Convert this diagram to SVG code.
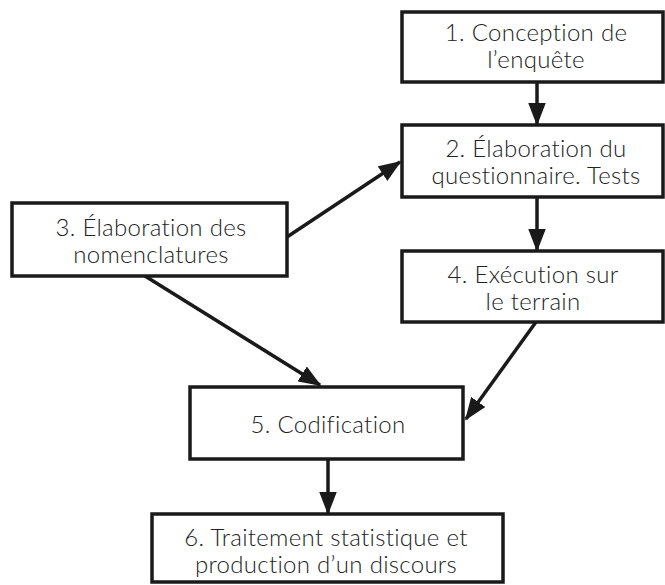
<svg xmlns="http://www.w3.org/2000/svg" width="665" height="585" viewBox="0 0 665 585">
<style>
.box{fill:#fff;stroke:#1a1a1a;stroke-width:3.5}
.lbl{font-family:"Lato","Liberation Sans",sans-serif;font-weight:300;font-size:24px;letter-spacing:0.3px;fill:#222;text-anchor:middle}
.con{stroke:#1a1a1a;stroke-width:3.5;fill:none;marker-end:url(#ah)}
</style>
<defs>
<marker id="ah" markerWidth="6.5" markerHeight="5" refX="6" refY="2.5" orient="auto" markerUnits="strokeWidth">
<path d="M0,0 L6.5,2.5 L0,5 Z" fill="#1a1a1a"/>
</marker>
</defs>
<rect width="665" height="585" fill="#fff"/>
<g id="connectors">
<line class="con" x1="537" y1="82" x2="537" y2="124"/>
<line class="con" x1="537" y1="197" x2="537" y2="250"/>
<line class="con" x1="287" y1="237" x2="400" y2="162"/>
<line class="con" x1="145" y1="276" x2="320" y2="385"/>
<line class="con" x1="536" y1="322" x2="466" y2="419"/>
<line class="con" x1="328" y1="459" x2="328" y2="513"/>
</g>
<g id="n1">
<rect class="box" x="402" y="12" width="261" height="70"/>
<text class="lbl"><tspan x="536" y="41">1. Conception de</tspan><tspan x="536" y="68">l’enquête</tspan></text>
</g>
<g id="n2">
<rect class="box" x="402" y="125" width="261" height="72"/>
<text class="lbl"><tspan x="536" y="157">2. Élaboration du</tspan><tspan x="536" y="184">questionnaire. Tests</tspan></text>
</g>
<g id="n3">
<rect class="box" x="12" y="203" width="275" height="73"/>
<text class="lbl"><tspan x="151" y="236">3. Élaboration des</tspan><tspan x="151" y="263">nomenclatures</tspan></text>
</g>
<g id="n4">
<rect class="box" x="402" y="251" width="261" height="71"/>
<text class="lbl"><tspan x="533" y="283">4. Exécution sur</tspan><tspan x="533" y="310">le terrain</tspan></text>
</g>
<g id="n5">
<rect class="box" x="190" y="387" width="273" height="72"/>
<text class="lbl" x="328" y="433">5. Codification</text>
</g>
<g id="n6">
<rect class="box" x="152" y="514" width="351" height="68"/>
<text class="lbl"><tspan x="326" y="546">6. Traitement statistique et</tspan><tspan x="326" y="573">production d’un discours</tspan></text>
</g>
</svg>
